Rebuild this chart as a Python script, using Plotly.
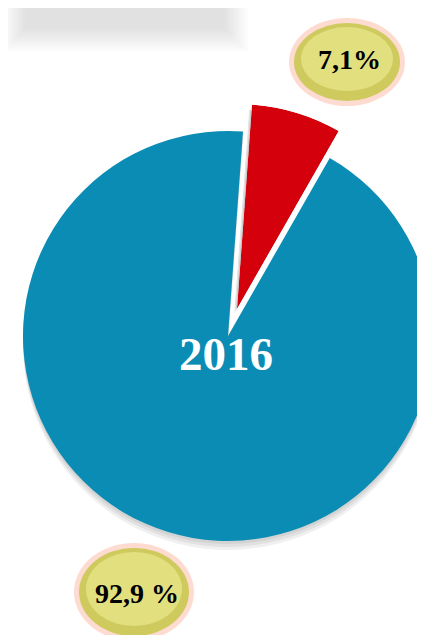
import math
import plotly.graph_objects as go

# ---- data ----
categories = ["Segment A", "Segment B"]
values = [7.1, 92.9]
pct_labels = ["7,1%", "92,9 %"]
year_label = "2016"
slice_colors = ["#d4000c", "#0a8cb4"]

# ---- layout geometry (figure pixels) ----
W, H = 425, 635
R = 205
BLUE_C = (220, 328)     # centre of the main pie
RED_C = (229, 301)      # apex of the exploded slice
START_ANGLE = 4.2       # degrees clockwise from 12 o'clock

total = sum(values)
spans = [360.0 * v / total for v in values]
red_theta0 = START_ANGLE
red_theta1 = START_ANGLE + spans[0]
red_mid = (red_theta0 + red_theta1) / 2


def dom(cx, cy, r):
    return dict(
        x=[max(0, (cx - r) / W), min(1, (cx + r) / W)],
        y=[max(0, 1 - (cy + r) / H), min(1, 1 - (cy - r) / H)],
    )


def only(i, color):
    return [color if j == i else "rgba(0,0,0,0)" for j in range(len(values))]


# sector (screen angles, ccw from east) of the exploded slice and its bbox
sector = [90 - red_theta1, 90 - red_theta0]
pts = [(0.0, 0.0)] + [
    (math.cos(math.radians(sector[0] + (sector[1] - sector[0]) * k / 400)),
     math.sin(math.radians(sector[0] + (sector[1] - sector[0]) * k / 400)))
    for k in range(401)
]
bx0 = min(p[0] for p in pts); bx1 = max(p[0] for p in pts)
by0 = min(p[1] for p in pts); by1 = max(p[1] for p in pts)


def sector_dom(ax, ay, r):
    return dict(
        x=[(ax + bx0 * r) / W, (ax + bx1 * r) / W],
        y=[1 - (ay - by0 * r) / H, 1 - (ay - by1 * r) / H],
    )


fig = go.Figure()

# exploded slice (+ soft shadow) as polar bars in clipped sectors
polar_layouts = {}
red_layers = [((-3, 5), "rgba(0,0,0,0.10)"), ((-1.5, 2.5), "rgba(0,0,0,0.10)"),
              ((0, 0), slice_colors[0])]
for k, ((dx, dy), col) in enumerate(red_layers):
    name = "polar" if k == 0 else f"polar{k + 1}"
    fig.add_trace(go.Barpolar(
        r=[1], theta=[red_mid], width=[spans[0]], subplot=name,
        marker=dict(color=col, line=dict(width=0)),
        name=categories[0], showlegend=False,
        hoverinfo="skip" if k < len(red_layers) - 1 else None))
    polar_layouts[name] = dict(
        domain=sector_dom(RED_C[0] + dx, RED_C[1] + dy, R),
        sector=sector, bgcolor="rgba(0,0,0,0)",
        radialaxis=dict(range=[0, 1], visible=False),
        angularaxis=dict(rotation=90, direction="clockwise", visible=False),
    )

# soft shadow of the main slice
for dy in (3, 6, 9):
    fig.add_trace(go.Pie(
        labels=categories, values=values, sort=False, direction="clockwise",
        rotation=START_ANGLE, textinfo="none", hoverinfo="skip",
        marker=dict(colors=only(1, "rgba(0,0,0,0.06)")),
        domain=dom(BLUE_C[0], BLUE_C[1] + dy, R), showlegend=False))

# main slice
fig.add_trace(go.Pie(
    labels=categories, values=values, sort=False, direction="clockwise",
    rotation=START_ANGLE, textinfo="none",
    marker=dict(colors=only(1, slice_colors[1])),
    domain=dom(*BLUE_C, R), showlegend=False))

shapes = []
# blurred grey title remnant at the top-left
for k in range(10):
    ins = 2.5 * k
    x0, x1, y1 = -6 + ins, 240 - ins, 44 - ins
    shapes.append(dict(type="rect", xref="paper", yref="paper",
                       x0=max(0, x0) / W, x1=x1 / W, y0=1 - y1 / H, y1=1,
                       line=dict(width=0), fillcolor="rgba(0,0,0,0.011)", layer="below"))

# label bubbles
bubbles = [((339, 54), 106, 78), ((126, 584), 110, 88)]
for (cx, cy), bw, bh in bubbles:
    shapes.append(dict(type="circle", xref="paper", yref="paper",
                       x0=(cx - bw / 2 - 5) / W, x1=(cx + bw / 2 + 5) / W,
                       y0=1 - (cy + bh / 2 + 5) / H, y1=1 - (cy - bh / 2 - 5) / H,
                       line=dict(width=0), fillcolor="rgba(250,175,150,0.45)"))
    shapes.append(dict(type="circle", xref="paper", yref="paper",
                       x0=(cx - bw / 2) / W, x1=(cx + bw / 2) / W,
                       y0=1 - (cy + bh / 2) / H, y1=1 - (cy - bh / 2) / H,
                       line=dict(width=0), fillcolor="#cfca5e"))
    shapes.append(dict(type="circle", xref="paper", yref="paper",
                       x0=(cx - bw / 2 + 7) / W, x1=(cx + bw / 2 - 7) / W,
                       y0=1 - (cy + bh / 2 - 10) / H, y1=1 - (cy - bh / 2 + 4) / H,
                       line=dict(width=0), fillcolor="rgba(238,236,150,0.6)"))

annotations = []
label_pos = [(341, 52), (129, 585)]
for txt, (x, y) in zip(pct_labels, label_pos):
    annotations.append(dict(text=f"<b>{txt}</b>", x=x / W, y=1 - y / H,
                            xref="paper", yref="paper", showarrow=False,
                            xanchor="center", yanchor="middle",
                            font=dict(family="Liberation Serif, Times New Roman, serif",
                                      size=28, color="#000000")))
annotations.append(dict(text=f"<b>{year_label}</b>", x=218 / W, y=1 - 346 / H,
                        xref="paper", yref="paper", showarrow=False,
                        xanchor="center", yanchor="middle",
                        font=dict(family="Liberation Serif, Times New Roman, serif",
                                  size=47, color="#ffffff")))

fig.update_layout(
    template="none",
    width=W, height=H,
    margin=dict(l=0, r=0, t=0, b=0),
    paper_bgcolor="#ffffff", plot_bgcolor="#ffffff",
    shapes=shapes, annotations=annotations,
    showlegend=False,
    **polar_layouts,
)

fig.write_html("out.html")
